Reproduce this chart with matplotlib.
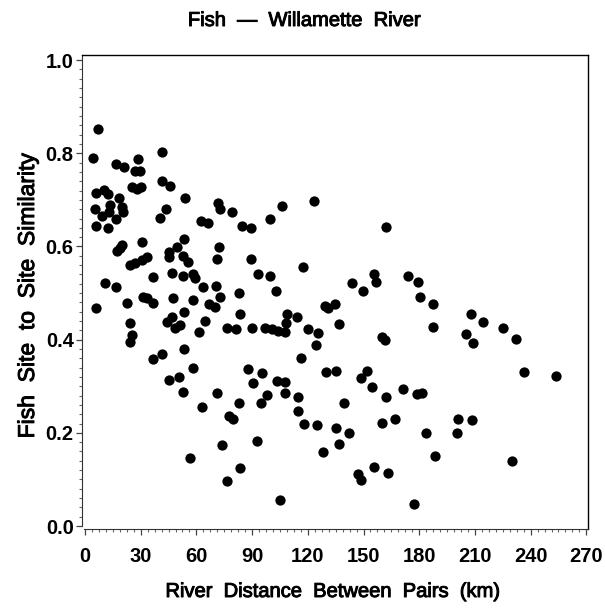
import matplotlib
matplotlib.use("Agg")
import matplotlib.pyplot as plt
import matplotlib.patheffects as pe
from matplotlib.ticker import MultipleLocator, FormatStrFormatter

# Pairwise river distance (km) vs. fish site-to-site similarity
distance_km = [
    7.2, 4.5, 16.5, 21.2, 28.4, 26.9, 29.6, 41.3, 41.3, 45.8,
    25.1, 27.8, 30.2, 5.8, 10.4, 12.2, 18.3, 53.8, 5.4, 13.5,
    19.8, 9.0, 12.9, 20.6, 16.7, 43.5, 40.4, 5.8, 12.6, 62.3,
    53.3, 19.8, 18.8, 17.1, 30.9, 49.7, 45.2, 45.2, 52.9, 55.6,
    33.2, 30.5, 26.9, 24.2, 58.3, 59.2, 36.5, 47.0, 52.6, 10.8,
    16.5, 63.7, 5.9, 22.8, 31.1, 33.5, 36.8, 47.6, 53.3, 58.0,
    46.7, 44.0, 24.2, 25.1, 24.2, 51.2, 48.5, 61.5, 41.3, 36.5,
    53.3, 58.3, 45.2, 50.8, 52.6, 63.0, 56.5, 71.8, 72.7, 79.0,
    66.4, 84.4, 89.2, 99.6, 106.3, 123.5, 72.3, 70.9, 89.2, 93.3,
    99.6, 117.6, 70.4, 72.7, 70.0, 66.8, 83.1, 102.9, 83.5, 108.9,
    114.0, 64.6, 76.3, 81.3, 89.8, 97.0, 100.5, 104.1, 107.7, 108.4,
    120.2, 125.6, 124.4, 116.3, 87.6, 95.5, 90.7, 103.6, 107.7, 107.7,
    98.2, 94.8, 70.9, 82.9, 114.5, 114.5, 77.7, 79.5, 117.9, 124.8,
    73.9, 92.5, 83.5, 76.3, 105.0, 128.0, 162.1, 155.6, 156.5, 143.6,
    149.9, 174.1, 179.5, 180.4, 187.6, 187.6, 129.2, 131.0, 134.6, 136.9,
    159.8, 161.5, 129.8, 135.0, 151.7, 148.5, 154.7, 162.1, 171.4, 178.6,
    181.6, 139.5, 135.0, 142.2, 136.6, 159.8, 167.0, 183.6, 188.5, 200.7,
    200.1, 146.8, 148.5, 155.6, 163.3, 177.2, 207.7, 214.5, 205.2, 209.1,
    224.9, 232.1, 236.4, 253.6, 208.2, 229.8,
]
similarity = [
    0.853, 0.790, 0.778, 0.771, 0.787, 0.762, 0.762, 0.802, 0.740, 0.730,
    0.728, 0.723, 0.728, 0.715, 0.721, 0.712, 0.703, 0.703, 0.680, 0.689,
    0.685, 0.665, 0.674, 0.673, 0.658, 0.680, 0.662, 0.644, 0.640, 0.654,
    0.617, 0.604, 0.596, 0.591, 0.609, 0.598, 0.589, 0.578, 0.580, 0.567,
    0.578, 0.572, 0.564, 0.560, 0.542, 0.532, 0.535, 0.544, 0.536, 0.521,
    0.514, 0.514, 0.467, 0.479, 0.492, 0.489, 0.479, 0.489, 0.459, 0.485,
    0.449, 0.438, 0.436, 0.410, 0.396, 0.431, 0.426, 0.417, 0.369, 0.358,
    0.379, 0.340, 0.313, 0.320, 0.288, 0.255, 0.147, 0.693, 0.680, 0.673,
    0.650, 0.644, 0.639, 0.659, 0.687, 0.698, 0.599, 0.573, 0.574, 0.541,
    0.536, 0.555, 0.515, 0.491, 0.471, 0.476, 0.501, 0.505, 0.455, 0.456,
    0.449, 0.440, 0.426, 0.423, 0.426, 0.426, 0.422, 0.418, 0.416, 0.435,
    0.423, 0.414, 0.388, 0.361, 0.336, 0.329, 0.306, 0.311, 0.310, 0.285,
    0.281, 0.265, 0.286, 0.265, 0.276, 0.247, 0.236, 0.229, 0.218, 0.217,
    0.174, 0.183, 0.125, 0.097, 0.056, 0.158, 0.642, 0.542, 0.524, 0.521,
    0.504, 0.537, 0.524, 0.492, 0.476, 0.428, 0.473, 0.467, 0.476, 0.433,
    0.406, 0.399, 0.330, 0.333, 0.333, 0.318, 0.298, 0.277, 0.294, 0.283,
    0.285, 0.263, 0.210, 0.199, 0.176, 0.222, 0.229, 0.200, 0.150, 0.229,
    0.199, 0.112, 0.099, 0.126, 0.113, 0.047, 0.456, 0.438, 0.412, 0.392,
    0.426, 0.401, 0.331, 0.322, 0.227, 0.139,
]

plt.rcParams["font.family"] = ["Liberation Sans", "DejaVu Sans"]

W, H = 605, 612
fig = plt.figure(figsize=(W / 100, H / 100), dpi=100)
# frame in pixels: left 82, right 588, top 55, bottom 529
ax = fig.add_axes([82.3 / W, 1 - 529 / H, (588 - 82.3) / W, (529 - 55) / H])

ax.plot(distance_km, similarity, "o", color="black", ms=7.4, mec="none")

ax.set_xlim(-1.45, 270.9)
ax.set_ylim(-0.0064, 1.011)

ax.xaxis.set_major_locator(MultipleLocator(30))
ax.xaxis.set_minor_locator(MultipleLocator(3.75))
ax.yaxis.set_major_locator(MultipleLocator(0.2))
ax.yaxis.set_minor_locator(MultipleLocator(0.02))
ax.yaxis.set_major_formatter(FormatStrFormatter("%.1f"))

ax.tick_params(which="major", direction="out", length=4.2, width=0.9, color="#444444")
ax.tick_params(which="minor", direction="out", length=2.0, width=0.8, color="#666666")
ax.tick_params(axis="x", which="major", pad=9)
ax.tick_params(axis="y", which="major", pad=2)
for lab in ax.get_xticklabels() + ax.get_yticklabels():
    lab.set_fontsize(14.5)
    lab.set_fontweight("bold")

for side in ["top", "right"]:
    ax.spines[side].set_linewidth(1.0)
    ax.spines[side].set_color("black")
ax.spines["left"].set_bounds(0, 1.011)
ax.spines["left"].set_color("#333333")
ax.spines["bottom"].set_bounds(-0.6, 270.9)
ax.spines["bottom"].set_color("#333333")

# SAS-style medium weight text: regular face thickened with a thin stroke
heavy = [pe.withStroke(linewidth=0.7, foreground="black")]

fig.text(304.5 / W, 1 - 26 / H, "Fish  \u2014  Willamette  River", fontsize=14.5,
         ha="center", va="baseline", path_effects=heavy)
fig.text(333 / W, 1 - 597 / H, "River  Distance  Between  Pairs  (km)", fontsize=14.5,
         ha="center", va="baseline", path_effects=heavy)
fig.text(34 / W, 1 - 296 / H, "Fish  Site  to  Site  Similarity", fontsize=16.5,
         rotation=90, rotation_mode="anchor", ha="center", va="baseline",
         path_effects=heavy)

fig.savefig("out.png", dpi=100)
